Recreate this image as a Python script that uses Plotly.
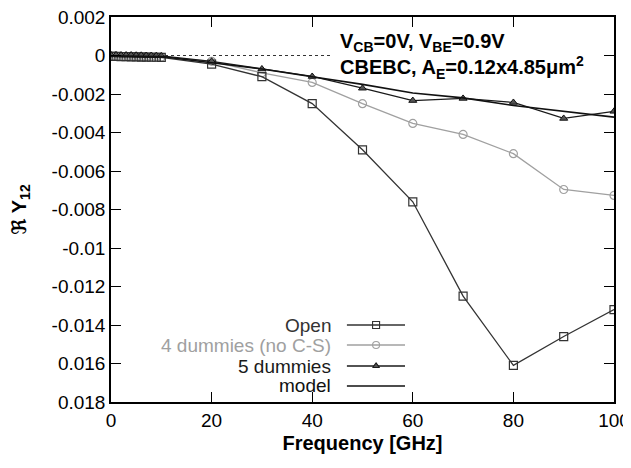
import plotly.graph_objects as go

# ---------------- data ----------------
freq = [0, 1, 2, 3, 4, 5, 6, 7, 8, 9, 10, 20, 30, 40, 50, 60, 70, 80, 90, 100]
open_y = [-0.00005, -0.00005, -0.00006, -0.00006, -0.00007, -0.00007, -0.00008, -0.00008, -0.00009, -0.00009, -0.0001,
          -0.00045, -0.0011, -0.0025, -0.0049, -0.0076, -0.0125, -0.0161, -0.0146, -0.0132]
dummies4_y = [-0.00003, -0.00003, -0.00004, -0.00004, -0.00005, -0.00005, -0.00006, -0.00006, -0.00007, -0.00007, -0.00008,
              -0.0003, -0.0009, -0.0014, -0.0025, -0.00353, -0.0041, -0.0051, -0.00696, -0.00727]
dummies5_y = [0.00003, 0.00003, 0.00002, 0.00002, 0.00002, 0.00001, 0.00001, 0.0, 0.0, -0.00001, -0.00002,
              -0.0003, -0.0007, -0.00109, -0.0017, -0.00234, -0.00223, -0.00244, -0.00327, -0.0029]
model_f = [0, 10, 20, 30, 40, 50, 60, 70, 80, 90, 100]
model_y = [-0.00002, -0.00005, -0.00038, -0.0007, -0.0011, -0.0015, -0.00195, -0.0022, -0.0026, -0.0029, -0.0032]
zero_f = [0, 44]
zero_y = [0, 0]

ytick_vals = [0.002, 0, -0.002, -0.004, -0.006, -0.008, -0.01, -0.012, -0.014, -0.016, -0.018]
ytick_text = ["0.002", "0", "-0.002", "-0.004", "-0.006", "-0.008", "-0.01", "-0.012", "-0.014", "0.016", "0.018"]
xtick_vals = [0, 20, 40, 60, 80, 100]

legend_names = ["Open", "4 dummies (no C-S)", "5 dummies", "model"]
legend_colors = ["#333333", "#a0a0a0", "#1a1a1a", "#111111"]
legend_symbols = ["square-open", "circle-open", "triangle-up", None]
legend_rows = [0.200, 0.148, 0.0935, 0.0416]

FONT = "Liberation Sans, Arial, DejaVu Sans, sans-serif"

fig = go.Figure()

fig.add_trace(go.Scatter(x=zero_f, y=zero_y, mode="lines",
                         line=dict(color="#333333", width=1, dash="dot"), showlegend=False))
fig.add_trace(go.Scatter(x=freq, y=dummies4_y, mode="lines+markers",
                         line=dict(color=legend_colors[1], width=1.3),
                         marker=dict(symbol="circle-open", size=8, color=legend_colors[1], line=dict(width=1.2)),
                         showlegend=False))
fig.add_trace(go.Scatter(x=freq, y=open_y, mode="lines+markers",
                         line=dict(color=legend_colors[0], width=1.3),
                         marker=dict(symbol="square-open", size=8, color=legend_colors[0], line=dict(width=1.2)),
                         showlegend=False))
fig.add_trace(go.Scatter(x=freq, y=dummies5_y, mode="lines+markers",
                         line=dict(color=legend_colors[2], width=1.3),
                         marker=dict(symbol="triangle-up", size=7, color="#555555",
                                     line=dict(width=1, color="#111111")),
                         showlegend=False))
fig.add_trace(go.Scatter(x=model_f, y=model_y, mode="lines",
                         line=dict(color=legend_colors[3], width=1.6), showlegend=False))

# manual legend (text right aligned, sample to the right)
x_text = 0.441
x0, x1, xm = 0.469, 0.5845, 0.527
for name, col, sym, yy in zip(legend_names, legend_colors, legend_symbols, legend_rows):
    fig.add_annotation(xref="paper", yref="paper", x=x_text, y=yy, text=name, showarrow=False,
                       xanchor="right", yanchor="middle",
                       font=dict(family=FONT, size=19, color=col))
    fig.add_trace(go.Scatter(x=[x0, x1], y=[yy, yy], xaxis="x2", yaxis="y2", mode="lines",
                             line=dict(color=col, width=1.3), showlegend=False, hoverinfo="skip"))
    if sym:
        fig.add_trace(go.Scatter(x=[xm], y=[yy], xaxis="x2", yaxis="y2", mode="markers",
                                 marker=dict(symbol=sym, size=7 if sym != "triangle-up" else 6,
                                             color=col if sym != "triangle-up" else "#555555",
                                             line=dict(width=1.1, color=col)),
                                 showlegend=False, hoverinfo="skip"))

fig.add_annotation(xref="paper", yref="paper", x=0.451, y=0.935,
                   text="<b>V<sub>CB</sub>=0V, V<sub>BE</sub>=0.9V</b>", showarrow=False,
                   xanchor="left", yanchor="middle", font=dict(family=FONT, size=20, color="black"))
fig.add_annotation(xref="paper", yref="paper", x=0.451, y=0.870,
                   text="<b>CBEBC, A<sub>E</sub>=0.12x4.85μm<sup>2</sup></b>", showarrow=False,
                   xanchor="left", yanchor="middle", font=dict(family=FONT, size=20, color="black"))

axis_common = dict(showline=True, linecolor="black", linewidth=1.5, mirror="ticks",
                   ticks="inside", ticklen=10, tickwidth=1.3, tickcolor="black",
                   showgrid=False, zeroline=False, automargin=False,
                   ticklabeloverflow="allow",
                   tickfont=dict(family=FONT, size=19, color="black"))

fig.update_layout(
    width=623, height=460,
    margin=dict(l=103, r=17, t=9, b=66),
    paper_bgcolor="white", plot_bgcolor="white",
    xaxis=dict(range=[0, 100], tickvals=xtick_vals,
               title=dict(text="<b>Frequency [GHz]</b>", font=dict(family=FONT, size=20, color="black"),
                          standoff=6),
               **axis_common),
    yaxis=dict(range=[-0.018, 0.002], tickvals=ytick_vals, ticktext=ytick_text,
               title=dict(text="<b>ℜ Y<sub>12</sub></b>", font=dict(family=FONT, size=20, color="black"),
                          standoff=22),
               **axis_common),
    xaxis2=dict(range=[0, 1], overlaying="x", visible=False, fixedrange=True),
    yaxis2=dict(range=[0, 1], overlaying="y", visible=False, fixedrange=True),
)

fig.write_html("out.html")
